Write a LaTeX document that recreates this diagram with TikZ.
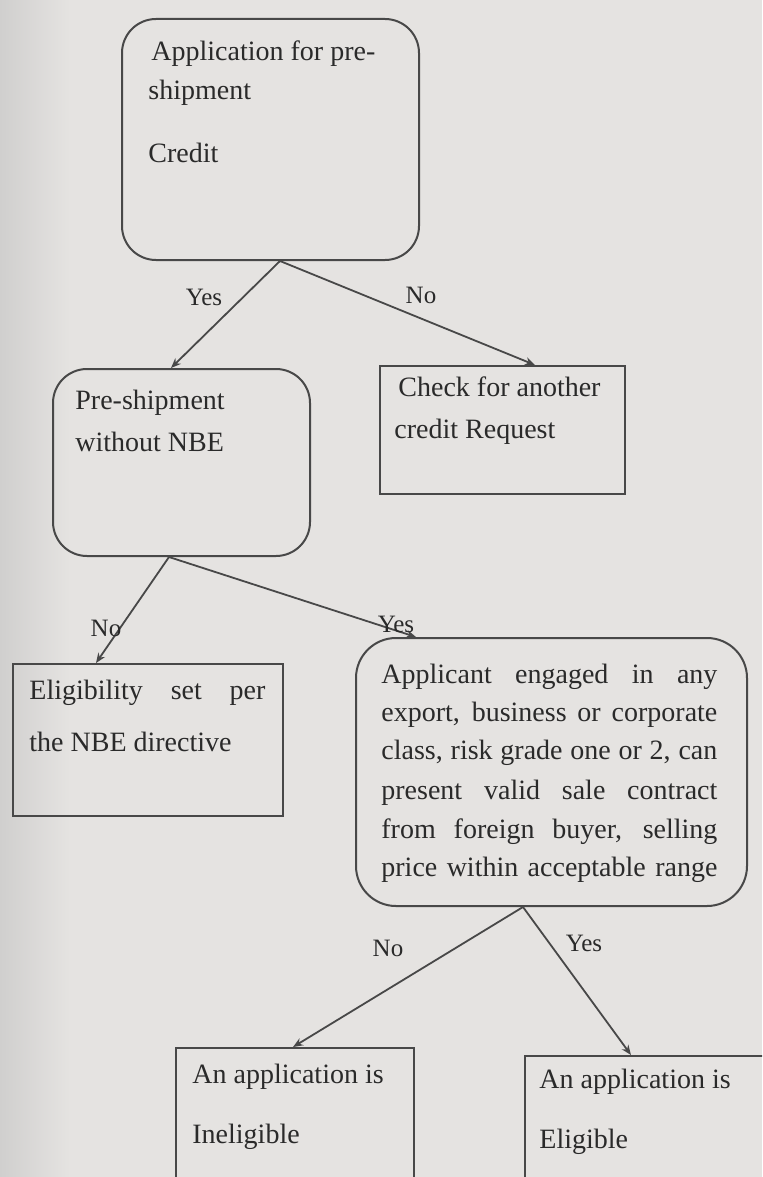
\documentclass[tikz,border=0pt]{standalone}
\usepackage{fontspec}
\setmainfont{Liberation Serif}
\usetikzlibrary{arrows.meta}
\definecolor{paper}{RGB}{229,227,225}
\definecolor{paperedge}{RGB}{208,207,206}
\definecolor{ink}{RGB}{42,42,42}
\definecolor{linegray}{RGB}{72,72,72}
\begin{document}
\begin{tikzpicture}[x=0.5pt,y=-0.5pt,
  box/.style={draw=linegray, line width=1pt, anchor=north west, inner sep=0pt},
  roundbox/.style={box, rounded corners=17pt},
  txt/.style={anchor=mid west, inner sep=0pt, text=ink, font=\fontsize{14}{17}\selectfont},
  lbl/.style={inner sep=0pt, text=ink, font=\fontsize{12.5}{14}\selectfont},
  flow/.style={draw=linegray, line width=0.9pt, -{Stealth[length=5pt,width=4pt]}}]
\useasboundingbox (0,0) rectangle (762,1177);
\clip (0,0) rectangle (762,1177);
% paper
\fill[paper] (0,0) rectangle (762,1177);
\shade[left color=paperedge, right color=paper] (0,0) rectangle (70,1177);

% boxes
\node[roundbox, minimum width=148.5pt, minimum height=120.5pt] (A) at (121,18) {};
\node[roundbox, minimum width=128.5pt, minimum height=93.5pt] (B) at (52,368) {};
\node[box, minimum width=122.5pt, minimum height=64pt] (C) at (379,365) {};
\node[box, minimum width=135pt, minimum height=76pt] (D) at (12,663) {};
\node[roundbox, rounded corners=20pt, minimum width=195.5pt, minimum height=134pt] (E) at (355,637) {};
\node[box, minimum width=119pt, minimum height=74pt] (F) at (175,1047) {};
\node[box, minimum width=128pt, minimum height=70pt] (G) at (524,1055) {};

% box texts
\node[txt] (a1) at (151,56) {Application for pre-};
\node[txt] (a2) at (148,95) {shipment};
\node[txt] (a3) at (148,158) {Credit};

\node[txt] (b1) at (75,405) {Pre-shipment};
\node[txt] (b2) at (75,447) {without NBE};

\node[txt] (c1) at (398,392) {Check for another};
\node[txt] (c2) at (394,434) {credit Request};

\node[txt] (d1) at (29,695) {\makebox[118pt][s]{Eligibility set per}};
\node[txt] (d2) at (29,747) {the NBE directive};

\node[txt] (e1) at (381,679) {\makebox[168pt][s]{Applicant engaged in any}};
\node[txt] (e2) at (381,717) {\makebox[168pt][s]{export, business or corporate}};
\node[txt] (e3) at (381,755) {\makebox[168pt][s]{class, risk grade one or 2, can}};
\node[txt] (e4) at (381,795) {\makebox[168pt][s]{present valid sale contract}};
\node[txt] (e5) at (381,834) {\makebox[168pt][s]{from foreign buyer, selling}};
\node[txt] (e6) at (381,872) {\makebox[168pt][s]{price within acceptable range}};

\node[txt] (f1) at (192,1079) {An application is};
\node[txt] (f2) at (192,1139) {Ineligible};

\node[txt] (g1) at (539,1084) {An application is};
\node[txt] (g2) at (539,1144) {Eligible};

% connectors
\draw[flow] ([shift={(9.5,0)}]A.south) -- ([shift={(-10.5,0)}]B.north);
\draw[flow] ([shift={(9.5,0)}]A.south) -- ([shift={(32.5,0)}]C.north);
\draw[flow] ([shift={(-12.5,0)}]B.south) -- ([shift={(-52,0)}]D.north);
\draw[flow] ([shift={(-12.5,0)}]B.south) -- ([shift={(-135.5,0)}]E.north);
\draw[flow] ([shift={(-28.5,0)}]E.south) -- ([shift={(-2,0)}]F.north);
\draw[flow] ([shift={(-28.5,0)}]E.south) -- ([shift={(-22,0)}]G.north);

% branch labels
\node[lbl] (l1) at (204,297) {Yes};
\node[lbl] (l2) at (421,295) {No};
\node[lbl] (l3) at (106,628) {No};
\node[lbl] (l4) at (396,624) {Yes};
\node[lbl] (l5) at (388,948) {No};
\node[lbl] (l6) at (584,943) {Yes};
\end{tikzpicture}
\end{document}
